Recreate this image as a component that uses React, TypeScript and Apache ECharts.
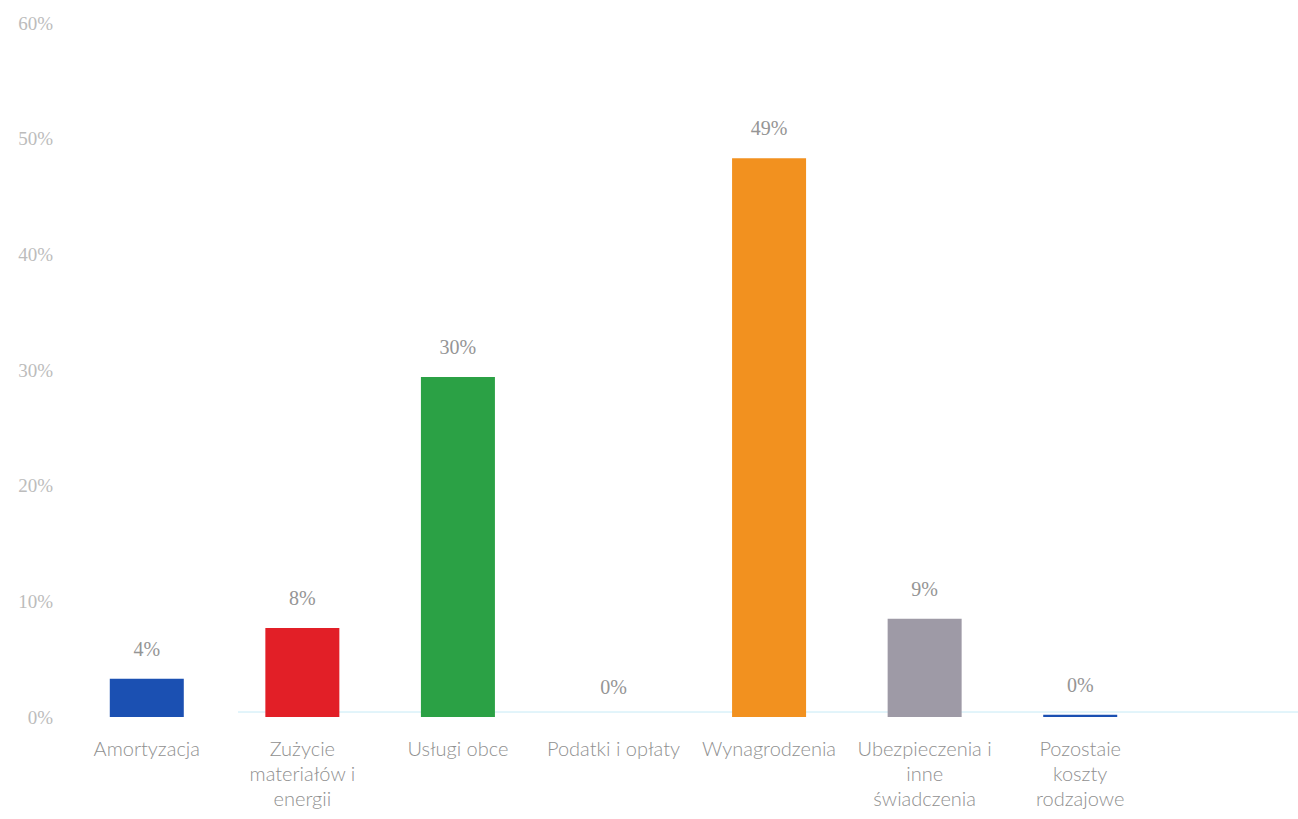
import React, { useEffect, useRef } from "react";
import * as echarts from "echarts";

const categories = [
  "Amortyzacja",
  "Zużycie\nmateriałów i\nenergii",
  "Usługi obce",
  "Podatki i opłaty",
  "Wynagrodzenia",
  "Ubezpieczenia i\ninne\nświadczenia",
  "Pozostaie\nkoszty\nrodzajowe",
];
const values = [3.3, 7.7, 29.4, 0, 48.3, 8.5, 0.2];
const valueLabels = ["4%", "8%", "30%", "0%", "49%", "9%", "0%"];
const barColors = ["#1b50b2", "#e21f27", "#2ba145", "#2ba145", "#f2911f", "#9e9aa6", "#1b50b2"];
const yTicks = [0, 10, 20, 30, 40, 50, 60];

export default function App() {
  const ref = useRef<HTMLDivElement>(null);
  useEffect(() => {
    if (!ref.current) return;
    const chart = echarts.init(ref.current, null, { renderer: "svg" });
    chart.setOption({
      animation: false,
      backgroundColor: "#ffffff",
      grid: { left: 69, right: 140, top: 23, bottom: 102, containLabel: false },
      xAxis: {
        type: "category",
        data: categories,
        axisLine: { show: false },
        axisTick: { show: false },
        axisLabel: {
          interval: 0,
          margin: 18,
          color: "#909090",
          fontFamily: "Lato, 'Open Sans', sans-serif",
          fontWeight: 300,
          fontSize: 20,
          lineHeight: 25,
        },
      },
      yAxis: {
        type: "value",
        min: yTicks[0],
        max: yTicks[yTicks.length - 1],
        interval: 10,
        splitLine: { show: false },
        axisLine: { show: false },
        axisTick: { show: false },
        axisLabel: {
          margin: 16,
          color: "#bcbcbc",
          fontFamily: "'Liberation Serif', serif",
          fontSize: 19,
          formatter: (v: number) => `${v}%`,
        },
      },
      graphic: [
        {
          type: "line",
          shape: { x1: 238, y1: 712, x2: 1298, y2: 712 },
          style: { stroke: "#c6eaf6", lineWidth: 1 },
          z: 0,
        },
      ],
      series: [
        {
          type: "bar",
          barWidth: 74,
          data: values.map((v, i) => ({ value: v, itemStyle: { color: barColors[i] } })),
          label: {
            show: true,
            position: "top",
            distance: 20,
            color: "#959595",
            fontFamily: "'Liberation Serif', serif",
            fontSize: 20,
            formatter: (p: any) => valueLabels[p.dataIndex],
          },
          z: 2,
        },
      ],
    });
    return () => chart.dispose();
  }, []);
  return (
    <div
      ref={ref}
      style={{ position: "absolute", left: 0, top: 0, width: 1298, height: 819 }}
    />
  );
}
